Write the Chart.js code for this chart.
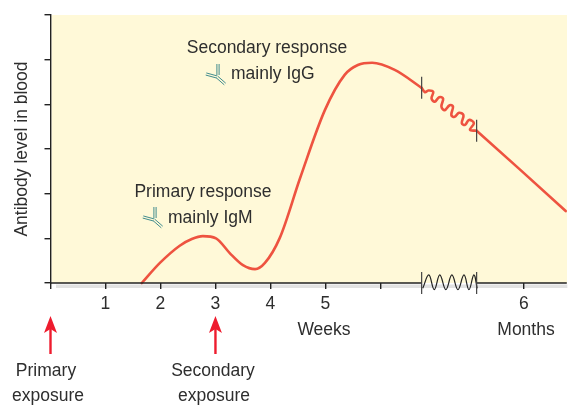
<!DOCTYPE html>
<html><head><meta charset="utf-8">
<style>html,body{margin:0;padding:0;background:#fff;overflow:hidden}canvas{display:block}</style>
<script src="https://cdn.jsdelivr.net/npm/chart.js@4"></script>
</head><body><canvas id="c" width="569" height="405"></canvas>
<script>
// Horizontal unit: weeks 0-6, then a break, then the month scale position
const curveX=[1.66,1.99,2.35,2.57,2.77,3.01,3.26,3.5,3.72,3.9,4.17,4.54,4.99,5.35,5.59,5.85,6.26,6.75];
const curveY=[0,0.45,0.835,0.985,1.05,1.0,0.67,0.40,0.31,0.45,1.01,2.35,3.87,4.66,4.88,4.93,4.77,4.37];
const wavyX=[6.75,6.81,6.87,6.96,6.93,6.99,7.07,7.14,7.11,7.17,7.26,7.32,7.29,7.35,7.43,7.51,7.48,7.54,7.61,7.70,7.63,7.75];
const wavyY=[4.37,4.27,4.31,4.28,4.13,4.06,4.16,4.13,3.95,3.87,3.98,3.95,3.76,3.72,3.81,3.76,3.58,3.54,3.65,3.58,3.43,3.41];
const tailX=[7.75,8.53,9.37];
const tailY=[3.41,2.55,1.61];
const breakWaveX=[6.77,6.88,6.98,7.08,7.19,7.30,7.41,7.52,7.61,7.70,7.76];
const breakWaveY=[-0.12,0.18,-0.15,0.18,-0.15,0.18,-0.15,0.18,-0.15,0.18,-0.12];
const xTickValues=[0,1,2,3,4,5,6,8.61];
const xTickLabels=['','1','2','3','4','5','','6'];
const yTickValues=[0,1,2,3,4,5,6];
const breakBars=[6.75,7.75];
const exposures=[0,3];
const FONT='"Liberation Sans",Arial,sans-serif';
const TEXT='#2E2E2E';
const SIZE=17.5;
const pts=(xs,ys)=>xs.map((x,i)=>({x,y:ys[i]}));
const redLine={borderColor:'#EE5340',borderWidth:2.6,pointRadius:0,showLine:true,tension:0.4,clip:false,borderCapStyle:'round',borderJoinStyle:'round',fill:false};
const axisLine={borderColor:'#222',borderWidth:1.4,pointRadius:0,showLine:true,tension:0,clip:false};

const decor={
 id:'decor',
 beforeDatasetsDraw(ch){
  const g=ch.ctx,a=ch.chartArea;
  g.save();g.fillStyle='#FFF9D8';g.fillRect(a.left+1,a.top,567-a.left-1,a.bottom-a.top);g.restore();
 },
 afterDraw(ch){
  const g=ch.ctx,xs=ch.scales.x,ys=ch.scales.y;
  g.save();
  g.strokeStyle='#444';g.lineWidth=1.2;
  [[breakBars[0],4.37],[breakBars[1],3.41],[breakBars[0],0],[breakBars[1],0]].forEach(([v,w])=>{
    const x=xs.getPixelForValue(v),y=ys.getPixelForValue(w);
    g.beginPath();g.moveTo(x,y-11);g.lineTo(x,y+11);g.stroke();
  });
  g.strokeStyle='#EE1C2E';g.fillStyle='#EE1C2E';g.lineWidth=2.4;
  exposures.forEach(v=>{
    const x=xs.getPixelForValue(v);
    g.beginPath();g.moveTo(x,354);g.lineTo(x,326);g.stroke();
    g.beginPath();g.moveTo(x,316);g.lineTo(x+6.5,333);g.lineTo(x,329);g.lineTo(x-6.5,333);g.closePath();g.fill();
  });
  const pair=(x1,y1,x2,y2)=>{
    const l=Math.hypot(x2-x1,y2-y1),nx=-(y2-y1)/l*1.1,ny=(x2-x1)/l*1.1;
    [1,-1].forEach(s=>{g.beginPath();g.moveTo(x1+s*nx,y1+s*ny);g.lineTo(x2+s*nx,y2+s*ny);g.stroke();});
  };
  const glyph=(ox,oy)=>{
    g.strokeStyle='#2C8085';g.lineWidth=0.9;
    pair(ox-12,oy-3,ox-1,oy);
    pair(ox,oy-13,ox,oy-2);
    pair(ox-1,oy,ox+7,oy+7);
  };
  glyph(218,77);glyph(155,220);
  g.fillStyle=TEXT;g.font=SIZE+'px '+FONT;g.textBaseline='middle';
  g.textAlign='center';
  [['Secondary response',267,48],['Primary response',203,192],['Weeks',324,330],['Months',526,330],
   ['Primary',46,371],['exposure',48,396],['Secondary',213,371],['exposure',214,396]].forEach(([t,x,y])=>g.fillText(t,x,y));
  g.textAlign='left';
  g.fillText('mainly IgG',231,74);g.fillText('mainly IgM',168,218);
  g.restore();
 }
};

new Chart(document.getElementById('c'),{
 type:'scatter',
 data:{datasets:[
  {data:pts([0.1,9.4],[-0.07,-0.07]),borderColor:'#E2E2E2',borderWidth:3.5,pointRadius:0,showLine:true,clip:false,order:9},
  {data:pts(curveX,curveY),...redLine,cubicInterpolationMode:'monotone',order:2},
  {data:pts(wavyX,wavyY),...redLine,order:2},
  {data:pts(tailX,tailY),...redLine,tension:0,order:2},
  {data:pts([0,breakBars[0]],[0,0]),...axisLine,order:1},
  {data:pts([breakBars[1],9.39],[0,0]),...axisLine,order:1},
  {data:pts(breakWaveX,breakWaveY),...axisLine,borderWidth:1.2,tension:0.4,order:1}
 ]},
 plugins:[decor],
 options:{
  responsive:false,animation:false,
  layout:{padding:{top:15,right:0,bottom:0,left:0}},
  plugins:{legend:{display:false},tooltip:{enabled:false},title:{display:false}},
  scales:{
   x:{type:'linear',min:0,max:9.43,
      afterFit(s){s.height=122;},
      afterBuildTicks(s){s.ticks=xTickValues.map(value=>({value}));},
      border:{display:false},
      grid:{z:1,drawOnChartArea:false,drawTicks:true,tickLength:6,color:'#222',lineWidth:1.4},
      ticks:{autoSkip:false,maxRotation:0,padding:5,color:TEXT,font:{family:FONT,size:SIZE},
             callback:(v)=>xTickLabels[xTickValues.indexOf(v)]??''}},
   y:{type:'linear',min:0,max:6,
      afterFit(s){s.width=50.5;},
      afterBuildTicks(s){s.ticks=yTickValues.map(value=>({value}));},
      border:{display:true,color:'#222',width:1.4,z:1},
      grid:{z:1,drawOnChartArea:false,drawTicks:true,tickLength:6,color:'#222',lineWidth:1.4},
      title:{display:true,text:'Antibody level in blood',color:TEXT,font:{family:FONT,size:SIZE},padding:{top:12,bottom:0}},
      ticks:{display:false}}
  }
 }
});
</script></body></html>
